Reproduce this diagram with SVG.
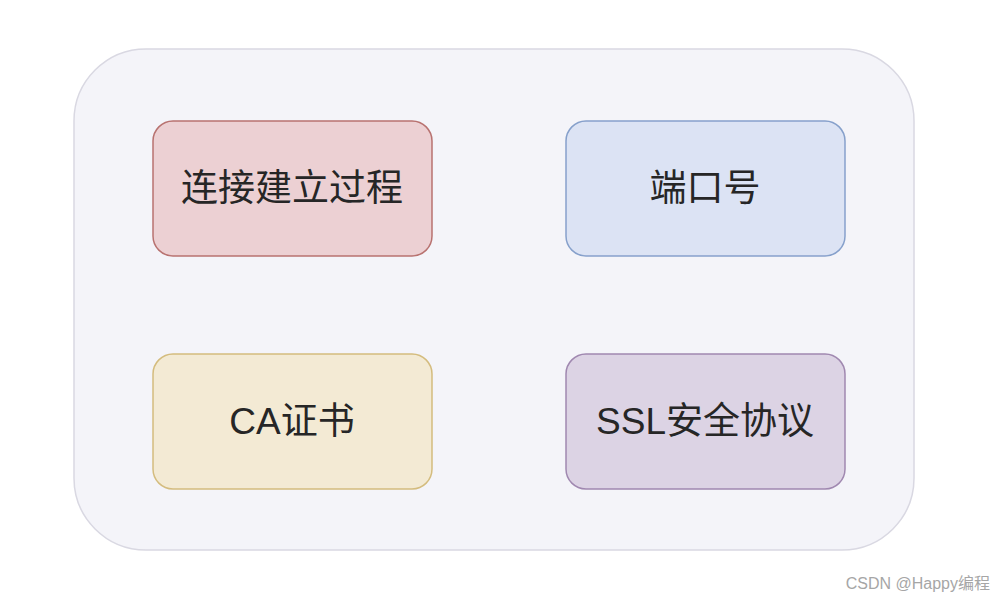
<svg xmlns="http://www.w3.org/2000/svg" width="1006" height="602" viewBox="0 0 1006 602">
<style>
.lbl{font-family:"Liberation Sans","Noto Sans CJK SC",sans-serif;font-size:37px;fill:#262626;text-anchor:middle}
.node{stroke-width:1.5}
</style>
<rect width="1006" height="602" fill="#ffffff"/>
<g id="container">
<rect x="74" y="49" width="840" height="501" rx="72" ry="72" fill="#f4f4f9" stroke="#d9d8e2" stroke-width="1.5"/>
</g>
<g id="node-connect">
<rect class="node" x="153" y="121" width="279" height="135" rx="20" fill="#ecd0d3" stroke="#b87270"/>
<text class="lbl" x="292" y="201">连接建立过程</text>
</g>
<g id="node-port">
<rect class="node" x="566" y="121" width="279" height="135" rx="20" fill="#dce3f4" stroke="#86a0cb"/>
<text class="lbl" x="705" y="201">端口号</text>
</g>
<g id="node-ca">
<rect class="node" x="153" y="354" width="279" height="135" rx="20" fill="#f3ead4" stroke="#d4bc7e"/>
<text class="lbl" x="292" y="434">CA证书</text>
</g>
<g id="node-ssl">
<rect class="node" x="566" y="354" width="279" height="135" rx="20" fill="#dcd3e4" stroke="#a088b0"/>
<text class="lbl" x="705" y="434">SSL安全协议</text>
</g>
<g id="connectors"></g>
<text x="990" y="589" font-family="Liberation Sans,'Noto Sans CJK SC',sans-serif" font-size="16" fill="#a6a6a6" text-anchor="end">CSDN @Happy编程</text>
</svg>
